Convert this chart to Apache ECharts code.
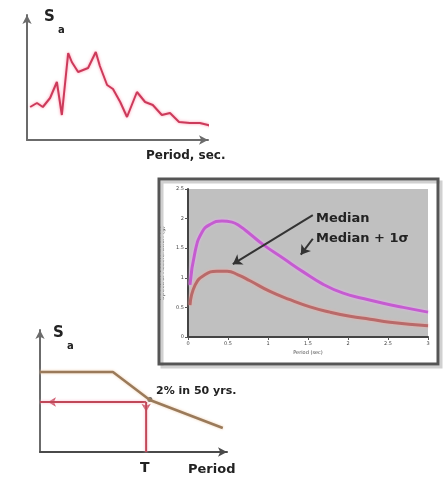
<!DOCTYPE html>
<html>
<head>
<meta charset="utf-8">
<style>
  html, body { margin: 0; padding: 0; background: #fff; }
  #main { width: 445px; height: 479px; }
</style>
<script src="https://cdn.jsdelivr.net/npm/echarts@6.0.0/dist/echarts.min.js"></script>
</head>
<body>
<div id="main"></div>
<script>
// top sketch: recorded response spectrum
const recPeriod = [0.07, 0.22, 0.35, 0.51, 0.66, 0.77, 0.91, 0.99, 1.13, 1.35, 1.52, 1.61, 1.77, 1.90, 2.06, 2.21, 2.43, 2.61, 2.78, 2.98, 3.16, 3.36, 3.60, 3.82, 4.00, 4.18];
const recSa = [0.33, 0.37, 0.33, 0.42, 0.58, 0.25, 0.87, 0.78, 0.68, 0.72, 0.88, 0.74, 0.55, 0.51, 0.38, 0.23, 0.48, 0.38, 0.35, 0.25, 0.27, 0.18, 0.17, 0.17, 0.15, 0.12];

// middle chart: attenuation relation, median and median + 1 sigma
const medPeriod = [0.025, 0.09, 0.21, 0.36, 0.49, 0.625, 0.775, 1.025, 1.275, 1.525, 1.775, 2.025, 2.275, 2.525, 3.0];
const medSa = [0.54, 0.88, 1.05, 1.11, 1.11, 1.05, 0.95, 0.77, 0.63, 0.51, 0.42, 0.35, 0.30, 0.25, 0.19];
const sigPeriod = [0.025, 0.09, 0.175, 0.275, 0.425, 0.55, 0.65, 0.775, 0.94, 1.19, 1.44, 1.69, 1.94, 2.19, 2.44, 2.69, 3.0];
const sigSa = [0.88, 1.45, 1.77, 1.90, 1.96, 1.94, 1.87, 1.74, 1.56, 1.33, 1.10, 0.89, 0.74, 0.65, 0.57, 0.50, 0.42];

// bottom sketch: design spectrum (2% in 50 yrs)
const desPeriod = [0, 1.56, 2.35, 3.91];
const desSa = [0.656, 0.656, 0.426, 0.197];
const T = 2.27;
const SaT = 0.41;

const FONT = 'DejaVu Sans';

function pairs(xs, ys) {
  return xs.map((x, i) => [x, ys[i]]);
}

// plain arrowed axis used by the two hand-drawn sketches
function sketchAxis(grid, max, color) {
  return {
    gridIndex: grid, type: 'value', min: 0, max: max,
    axisLine: { lineStyle: { color: color, width: 2 }, symbol: ['none', 'arrow'], symbolSize: [7, 9] },
    axisTick: { show: false },
    axisLabel: { show: false },
    splitLine: { show: false }
  };
}

// labelled axis for the middle chart
function chartAxis(max, name) {
  return {
    gridIndex: 1, type: 'value', min: 0, max: max, interval: 0.5,
    name: name, nameLocation: 'middle',
    nameTextStyle: { fontSize: 5, color: '#444', fontFamily: FONT },
    axisLine: { onZero: false, lineStyle: { color: '#444', width: 2 } },
    axisTick: { length: 3, lineStyle: { color: '#555' } },
    axisLabel: { fontSize: 5, color: '#444', margin: 4, fontFamily: FONT },
    splitLine: { show: false }
  };
}

function txt(x, y, text, size) {
  return {
    type: 'text', x: x, y: y, z: 100,
    style: { text: text, fontSize: size, fontWeight: 'bold', fontFamily: FONT, fill: '#222' }
  };
}

const chart = echarts.init(document.getElementById('main'));

const xMid = chartAxis(3, 'Period (sec)');
xMid.nameGap = 13;
const yMid = chartAxis(2.5, 'Spectral Acceleration (g)');
yMid.nameGap = 15;
yMid.nameTextStyle = { fontSize: 6, color: '#111', fontFamily: FONT };

chart.setOption({
  animation: false,
  backgroundColor: '#fff',
  grid: [
    { left: 27, top: 15, width: 181, height: 125 },
    { left: 188, top: 189, width: 240, height: 148, show: true, backgroundColor: '#c0c0c0', borderWidth: 0 },
    { left: 40, top: 330, width: 187, height: 122 }
  ],
  xAxis: [sketchAxis(0, 4, '#6b6b6b'), xMid, sketchAxis(2, 4, '#4a4a4a')],
  yAxis: [sketchAxis(0, 1.25, '#6b6b6b'), yMid, sketchAxis(2, 1, '#6b6b6b')],
  series: [
    {
      type: 'line', xAxisIndex: 0, yAxisIndex: 0, data: pairs(recPeriod, recSa),
      symbol: 'none', clip: false,
      lineStyle: { color: '#cc3a5a', width: 2, shadowColor: 'rgba(255,120,150,0.8)', shadowBlur: 3 }
    },
    {
      type: 'line', xAxisIndex: 1, yAxisIndex: 1, data: pairs(sigPeriod, sigSa),
      symbol: 'none', smooth: 0.5,
      lineStyle: { color: '#c45ccf', width: 3, shadowColor: '#eab0f5', shadowBlur: 3 }
    },
    {
      type: 'line', xAxisIndex: 1, yAxisIndex: 1, data: pairs(medPeriod, medSa),
      symbol: 'none', smooth: 0.5,
      lineStyle: { color: '#b86a6a', width: 3, shadowColor: '#f4a8a0', shadowBlur: 3 },
      markLine: {
        silent: true, symbol: ['none', 'arrow'], symbolSize: 9,
        label: { show: false },
        lineStyle: { color: '#333', width: 2, type: 'solid' },
        data: [
          [{ coord: [1.56, 2.06] }, { coord: [0.56, 1.23] }],
          [{ coord: [1.56, 1.66] }, { coord: [1.41, 1.39] }]
        ]
      }
    },
    {
      type: 'line', xAxisIndex: 2, yAxisIndex: 2, data: pairs(desPeriod, desSa),
      symbol: 'none',
      lineStyle: { color: '#9a7a5a', width: 2.5, shadowColor: '#f0d0b0', shadowBlur: 3 }
    },
    {
      type: 'line', xAxisIndex: 2, yAxisIndex: 2, data: [[T, SaT], [0, SaT]],
      symbol: 'none',
      lineStyle: { color: '#c04858', width: 2, shadowColor: '#f8b8c8', shadowBlur: 3 }
    },
    {
      type: 'line', xAxisIndex: 2, yAxisIndex: 2, data: [[T, SaT], [T, 0]],
      symbol: 'none',
      lineStyle: { color: '#c04858', width: 2, shadowColor: '#f8b8c8', shadowBlur: 3 }
    },
    {
      type: 'scatter', xAxisIndex: 2, yAxisIndex: 2, symbol: 'arrow', symbolSize: [7, 8],
      itemStyle: { color: '#c03048' },
      data: [
        { value: [0.17, SaT], symbolRotate: 90 },
        { value: [T, 0.33], symbolRotate: 180 }
      ]
    },
    {
      type: 'scatter', xAxisIndex: 2, yAxisIndex: 2, symbolSize: 5,
      itemStyle: { color: '#111' },
      data: [[2.35, 0.43]]
    }
  ],
  graphic: [
    { type: 'rect', z: 90, shape: { x: 162, y: 182, width: 279, height: 185 }, style: { fill: 'none', stroke: '#d0d0d0', lineWidth: 3 } },
    { type: 'rect', z: 91, shape: { x: 159, y: 179, width: 279, height: 185 }, style: { fill: 'none', stroke: '#555', lineWidth: 3 } },
    txt(44, 10, 'S', 15),
    txt(58, 25, 'a', 10),
    txt(146, 150, 'Period, sec.', 12),
    txt(316, 212, 'Median', 13),
    txt(316, 232, 'Median + 1\u03c3', 13),
    txt(53, 326, 'S', 15),
    txt(67, 341, 'a', 10),
    txt(156, 386, '2% in 50 yrs.', 11),
    txt(140, 461, 'T', 14),
    txt(188, 463, 'Period', 13)
  ]
});
</script>
</body>
</html>
